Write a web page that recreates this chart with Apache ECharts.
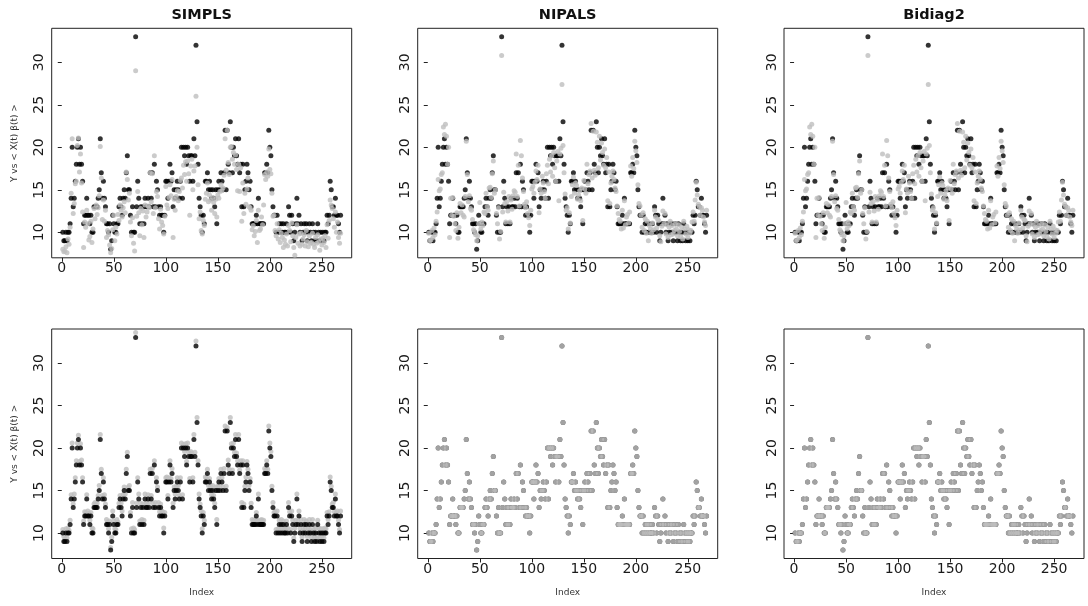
<!DOCTYPE html>
<html>
<head>
<meta charset="utf-8">
<script src="https://cdn.jsdelivr.net/npm/echarts@6/dist/echarts.min.js"></script>
<style>
html,body{margin:0;padding:0;background:#fff;}
#chart{width:1088px;height:606px;}
</style>
</head>
<body>
<div id="chart"></div>
<script>
// Observed response Y (index 1..268)
const Y = [10,9,9,10,9,10,10,11,14,20, 13,14,16,18,20,21,18,20,18,16, 11,12,12,14,12,12,11,12,10,10,
 13,13,13,13,14,15,21,17,14,16, 14,13,11,11,10,11,8,9,12,11, 10,10,11,11,13,14,13,12,14,15,
 14,17,19,15,15,12,10,13,10,10, 33,13,16,14,11,13,11,13,11,14, 13,13,14,13,17,14,17,13,18,13,
 16,15,13,12,13,12,12,10,12,16, 16,14,16,18,16,17,13,15,14,15, 16,15,14,16,20,14,20,19,20,18,
 20,19,16,19,19,16,21,19,32,23, 18,14,13,12,10,12,11,16,16,17, 15,16,15,14,15,14,13,15,11,15,
 16,15,17,16,15,17,22,15,22,18, 17,23,20,17,20,19,21,19,18,21, 17,18,13,18,13,15,16,18,17,15,
 16,13,11,11,11,11,12,11,14,11, 11,11,11,11,17,17,18,17,22,20, 19,15,13,12,12,10,12,10,11,10,
 11,10,11,10,10,11,10,13,12,10, 12,11,9,10,11,14,11,12,10,11, 9,10,11,10,11,9,10,11,10,9,
 11,10,9,10,9,11,10,9,10,9, 10,9,10,10,12,11,12,16,15,13, 13,12,14,12,12,11,10,12];

// Fitted values <X(t), beta(t)>
const simplsFit = [8.0,7.7,7.8,8.3,7.6,9.2,8.6,10.6,14.6,21.0, 12.2,13.4,15.7,16.0,20.2,21.1,17.1,19.2,15.8,12.4,
 8.2,11.2,10.6,12.6,11.0,9.1,9.5,11.3,8.8,10.4, 12.8,11.6,13.2,12.1,12.9,14.3,20.1,16.4,11.5,13.8,
 11.3,12.6,9.4,10.2,9.7,8.5,7.6,8.1,10.3,12.0, 9.0,10.6,9.8,12.1,11.4,13.2,12.6,11.8,12.9,13.6,
 12.3,17.1,16.2,13.8,14.6,11.2,9.6,11.7,8.7,7.8, 29.0,11.9,14.8,12.3,9.6,12.8,10.9,12.5,9.4,13.2,
 11.8,12.4,13.1,12.9,17.0,13.6,16.9,12.2,19.0,12.9, 14.8,14.2,11.6,10.4,12.7,11.2,10.8,9.8,11.9,15.4,
 13.2,12.8,14.1,15.6,14.3,16.2,9.4,13.9,12.6,14.2, 14.9,13.7,14.8,16.1,16.4,15.2,17.9,16.8,18.3,16.0,
 18.4,16.9,12.0,17.8,18.6,15.0,17.2,17.8,26.0,20.0, 15.6,11.6,12.4,10.2,9.8,11.4,10.8,13.9,14.6,15.8,
 13.6,14.4,13.8,12.6,14.1,13.5,12.2,13.9,11.8,14.4, 14.0,14.8,15.6,14.9,15.2,16.7,21.0,17.3,22.0,18.2,
 16.8,20.0,20.1,18.6,19.4,18.0,19.1,17.4,14.9,18.0, 14.8,17.6,11.3,15.8,12.2,14.6,13.3,15.1,16.4,13.0,
 12.9,12.6,10.3,10.8,9.6,10.1,11.4,8.8,12.6,10.2, 10.4,11.8,10.9,13.2,16.8,16.2,17.1,16.6,19.8,17.4,
 16.9,14.6,11.9,12.0,10.2,9.6,11.0,9.2,10.3,8.8, 9.9,9.4,8.2,9.1,8.6,9.8,8.4,10.8,10.2,8.9,
 11.1,9.6,8.2,7.3,9.4,10.9,8.7,9.8,8.4,9.9, 8.6,9.2,9.7,8.4,10.2,8.9,8.3,9.6,8.7,8.8,
 9.9,8.6,8.2,9.4,8.7,9.7,8.9,7.9,9.2,8.5, 9.3,8.8,9.6,8.2,10.9,9.3,11.4,13.8,13.2,12.8,
 11.6,10.6,12.4,10.0,11.2,9.4,8.7,9.9];

const nipalsFit = [9.9,9.0,9.1,10.2,9.4,10.5,9.7,11.3,12.4,16.2, 14.9,15.1,16.8,17.0,22.4,21.5,22.7,21.3,18.0,20.0,
 9.4,14.0,12.0,14.1,11.9,11.0,10.2,12.3,9.3,10.6, 13.4,12.3,13.2,12.0,11.8,14.2,20.7,16.8,13.6,14.3,
 12.8,12.6,11.5,10.3,10.1,9.7,9.0,9.6,11.0,13.5, 10.4,11.2,10.8,12.4,12.2,14.6,13.0,12.6,15.2,15.3,
 14.1,16.9,18.4,14.6,15.0,12.2,11.0,12.9,9.2,10.1, 30.8,12.4,14.7,13.4,11.2,13.6,12.5,14.2,11.2,13.8,
 12.7,14.3,14.9,14.7,19.2,14.2,17.9,13.1,20.8,19.0, 16.4,14.8,13.3,12.9,13.6,12.2,11.7,10.8,12.6,15.1,
 15.4,14.6,15.9,17.2,16.2,17.9,12.3,15.1,14.6,16.6, 15.8,14.8,14.0,16.9,17.9,15.7,18.6,17.1,19.0,16.6,
 19.4,17.6,16.0,18.4,19.5,13.7,19.2,19.9,27.4,20.2, 17.0,14.5,12.6,12.9,10.4,12.3,11.1,14.2,15.6,16.5,
 14.6,15.8,15.5,13.9,14.4,14.9,13.7,15.2,11.4,16.1, 15.1,14.6,18.0,15.7,16.8,17.2,22.8,16.4,21.9,17.3,
 16.7,21.8,20.6,17.6,21.3,18.5,20.5,19.4,17.9,19.8, 17.6,18.8,13.7,17.1,13.4,15.8,16.6,17.2,16.2,15.2,
 14.8,13.1,12.2,11.5,11.3,10.4,12.6,10.5,13.7,10.9, 11.8,12.1,11.1,12.4,17.8,16.6,18.8,17.5,20.7,19.6,
 18.2,15.6,13.4,13.1,12.0,10.6,12.3,10.2,11.6,9.9, 11.3,9.0,10.8,10.4,9.9,11.1,10.3,12.6,11.8,10.5,
 11.5,11.4,9.6,8.9,10.7,12.5,11.0,12.2,9.8,10.9, 9.4,10.6,11.3,9.7,10.8,9.8,10.2,11.0,10.4,9.6,
 10.9,10.1,9.5,10.6,9.2,11.3,10.4,9.8,10.7,9.4, 10.3,9.9,10.2,11.2,12.4,11.3,13.8,15.9,14.4,13.3,
 13.0,12.0,12.9,12.6,11.8,11.2,10.8,12.6];

const bidiag2Fit = nipalsFit;

const simplsFit2 = [10.4,9.6,9.3,10.5,9.4,10.6,10.3,11.5,14.5,20.6, 13.4,14.6,16.5,18.5,20.6,21.5,18.4,20.5,18.6,16.5,
 11.4,12.5,12.4,14.5,12.6,12.3,11.5,12.4,10.6,10.5, 13.4,13.6,13.3,13.5,14.4,15.6,21.6,17.5,14.4,16.5,
 14.5,13.4,11.6,11.3,10.5,11.4,8.3,9.5,12.6,11.4, 10.5,10.4,11.6,11.3,13.5,14.4,13.5,12.6,14.5,15.4,
 14.6,17.5,19.5,15.4,15.6,12.4,10.5,13.6,10.6,10.4, 33.6,13.5,16.5,14.6,11.4,13.5,11.6,13.4,11.5,14.6,
 13.5,13.4,14.5,13.6,17.5,14.4,17.6,13.5,18.5,13.6, 16.5,15.4,13.6,12.5,13.4,12.6,12.5,10.6,12.4,16.5,
 16.6,14.4,16.5,18.5,16.4,17.6,13.5,15.4,14.6,15.5, 16.5,15.6,14.4,16.5,20.6,14.5,20.4,19.6,20.5,18.4,
 20.6,19.5,16.4,19.6,19.4,16.5,21.6,19.5,32.6,23.6, 18.5,14.6,13.4,12.6,10.5,12.4,11.5,16.6,16.4,17.5,
 15.6,16.4,15.5,14.5,15.6,14.4,13.5,15.4,11.6,15.5, 16.4,15.6,17.5,16.5,15.4,17.6,22.6,15.5,22.4,18.6,
 17.5,23.6,20.5,17.4,20.6,19.5,21.6,19.4,18.5,21.6, 17.4,18.5,13.6,18.5,13.4,15.5,16.6,18.4,17.5,15.6,
 16.4,13.5,11.6,11.4,11.5,11.6,12.4,11.5,14.6,11.4, 11.5,11.6,11.4,11.5,17.6,17.4,18.5,17.5,22.6,20.6,
 19.6,15.5,13.6,12.4,12.5,10.4,12.6,10.5,11.5,10.4, 11.6,10.5,11.4,10.6,10.5,11.4,10.6,13.6,12.5,10.4,
 12.6,11.5,9.4,10.6,11.5,14.6,11.4,12.6,10.5,11.6, 9.5,10.4,11.6,10.5,11.4,9.6,10.5,11.6,10.4,9.5,
 11.6,10.4,9.5,10.6,9.4,11.5,10.6,9.4,10.5,9.6, 10.5,9.4,10.6,10.5,12.4,11.6,12.5,16.6,15.5,13.4,
 13.6,12.5,14.6,12.4,12.6,11.5,10.4,12.6];

// bottom-middle / bottom-right: fitted values coincide with Y
const nipalsFit2 = Y;
const bidiag2Fit2 = Y;

const titles = ['SIMPLS', 'NIPALS', 'Bidiag2'];
const xTicks = [0, 50, 100, 150, 200, 250];
const yTicks = [10, 15, 20, 25, 30];
const yAxisTitle = 'Y vs < X(t) \u03B2(t) >';
const xAxisTitle = 'Index';

const fits = [simplsFit, nipalsFit, bidiag2Fit, simplsFit2, nipalsFit2, bidiag2Fit2];
// panels where the observed (black) points are drawn above the fitted (gray) points
const blackOnTop = [false, false, false, true, false, false];

const n = Y.length;
const xMin = 1 - 0.04 * (n - 1), xMax = n + 0.04 * (n - 1);
const yMin = 7, yMax = 34;

const colLeft = [51.7, 417.7, 784];
const rowTop = [28.3, 329];
const W = 300, H = 229.5;

const FONT = '"DejaVu Sans", "Liberation Sans", sans-serif';

function pairs(arr) { return arr.map((v, i) => [i + 1, v]); }

const grids = [], xAxes = [], yAxes = [], series = [], graphics = [];
for (let p = 0; p < 6; p++) {
  const r = Math.floor(p / 3), c = p % 3;
  grids.push({ left: colLeft[c], top: rowTop[r], width: W, height: H, show: true,
    borderColor: '#222', borderWidth: 1, backgroundColor: 'transparent', containLabel: false });
  xAxes.push({ type: 'value', gridIndex: p, min: xMin, max: xMax,
    axisLine: { show: false }, splitLine: { show: false },
    axisTick: { show: true, length: 4, inside: false, customValues: xTicks, lineStyle: { color: '#222' } },
    axisLabel: { customValues: xTicks, margin: 4, fontSize: 14, fontFamily: FONT, color: '#1a1a1a' } });
  yAxes.push({ type: 'value', gridIndex: p, min: yMin, max: yMax,
    axisLine: { show: false }, splitLine: { show: false },
    axisTick: { show: true, length: 4, inside: false, customValues: yTicks, lineStyle: { color: '#222' } },
    axisLabel: { customValues: yTicks, rotate: 90, margin: 5, fontSize: 14, fontFamily: FONT, color: '#1a1a1a' } });
  const top = blackOnTop[p];
  series.push({ type: 'scatter', xAxisIndex: p, yAxisIndex: p, data: pairs(Y), symbol: 'circle', symbolSize: 5,
    itemStyle: { color: '#000' }, silent: true, z: top ? 3 : 2 });
  series.push({ type: 'scatter', xAxisIndex: p, yAxisIndex: p, data: pairs(fits[p]), symbol: 'circle', symbolSize: 5,
    itemStyle: { color: '#bebebe' }, silent: true, z: top ? 2 : 3 });
  if (r === 0) {
    graphics.push({ type: 'text', x: colLeft[c] + W / 2, y: 15,
      style: { text: titles[c], font: 'bold 14.5px ' + FONT, fill: '#111', textAlign: 'center', textVerticalAlign: 'middle' } });
  }
  if (c === 0) {
    graphics.push({ type: 'text', x: 15, y: rowTop[r] + H / 2, rotation: Math.PI / 2,
      style: { text: yAxisTitle, font: '9px ' + FONT, fill: '#333', textAlign: 'center', textVerticalAlign: 'middle' } });
  }
  if (r === 1) {
    graphics.push({ type: 'text', x: colLeft[c] + W / 2, y: 593,
      style: { text: xAxisTitle, font: '9px ' + FONT, fill: '#333', textAlign: 'center', textVerticalAlign: 'middle' } });
  }
}

const chart = echarts.init(document.getElementById('chart'), null, { renderer: 'canvas' });
chart.setOption({
  animation: false,
  backgroundColor: '#fff',
  grid: grids, xAxis: xAxes, yAxis: yAxes, series: series,
  graphic: graphics
});
</script>
</body>
</html>
